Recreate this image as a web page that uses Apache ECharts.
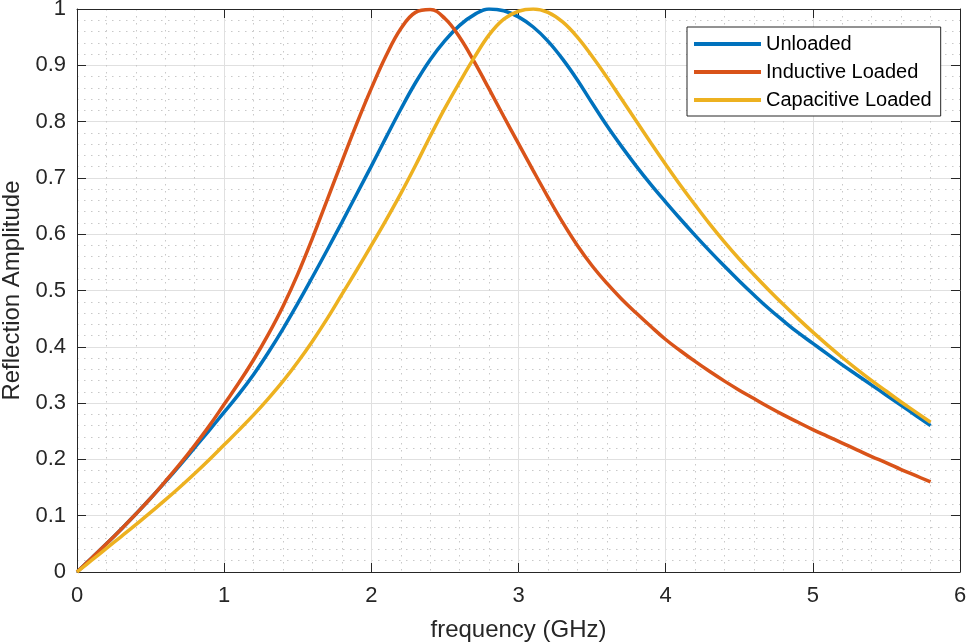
<!DOCTYPE html>
<html>
<head>
<meta charset="utf-8">
<script src="https://cdn.jsdelivr.net/npm/echarts@6/dist/echarts.min.js"></script>
<style>
  html, body { margin: 0; padding: 0; background: #ffffff; }
  #chart { width: 968px; height: 642px; }
</style>
</head>
<body>
<div id="chart"></div>
<script>
// Frequency samples (GHz), 0 to 5.8 in steps of 0.1
const freq = [
  0.0, 0.1, 0.2, 0.3, 0.4, 0.5, 0.6, 0.7, 0.8, 0.9,
  1.0, 1.1, 1.2, 1.3, 1.4, 1.5, 1.6, 1.7, 1.8, 1.9,
  2.0, 2.1, 2.2, 2.3, 2.4, 2.5, 2.6, 2.7, 2.8, 2.9,
  3.0, 3.1, 3.2, 3.3, 3.4, 3.5, 3.6, 3.7, 3.8, 3.9,
  4.0, 4.1, 4.2, 4.3, 4.4, 4.5, 4.6, 4.7, 4.8, 4.9,
  5.0, 5.1, 5.2, 5.3, 5.4, 5.5, 5.6, 5.7, 5.8];

const unloaded = [
  0.000, 0.025, 0.050, 0.076, 0.103, 0.131, 0.160, 0.190, 0.221, 0.252,
  0.284, 0.316, 0.351, 0.390, 0.432, 0.477, 0.524, 0.572, 0.621, 0.671,
  0.721, 0.772, 0.822, 0.869, 0.910, 0.944, 0.971, 0.990, 1.000, 0.997,
  0.986, 0.968, 0.943, 0.911, 0.874, 0.833, 0.793, 0.756, 0.721, 0.688,
  0.657, 0.627, 0.598, 0.570, 0.543, 0.517, 0.492, 0.468, 0.446, 0.425,
  0.406, 0.387, 0.368, 0.350, 0.332, 0.314, 0.296, 0.278, 0.260];

const inductive = [
  0.000, 0.025, 0.050, 0.076, 0.103, 0.131, 0.161, 0.192, 0.225, 0.260,
  0.298, 0.336, 0.377, 0.422, 0.472, 0.529, 0.593, 0.661, 0.729, 0.796,
  0.859, 0.917, 0.965, 0.994, 0.999, 0.983, 0.950, 0.906, 0.858, 0.809,
  0.761, 0.713, 0.666, 0.621, 0.580, 0.544, 0.513, 0.485, 0.460, 0.436,
  0.413, 0.393, 0.374, 0.356, 0.339, 0.323, 0.308, 0.293, 0.279, 0.266,
  0.253, 0.241, 0.229, 0.217, 0.205, 0.194, 0.182, 0.171, 0.160];

const capacitive = [
  0.000, 0.021, 0.042, 0.063, 0.084, 0.106, 0.128, 0.151, 0.175, 0.200,
  0.226, 0.252, 0.279, 0.308, 0.339, 0.373, 0.410, 0.450, 0.493, 0.536,
  0.580, 0.625, 0.672, 0.722, 0.774, 0.824, 0.870, 0.914, 0.954, 0.982,
  0.996, 1.000, 0.994, 0.977, 0.950, 0.916, 0.879, 0.840, 0.801, 0.762,
  0.724, 0.687, 0.652, 0.618, 0.586, 0.556, 0.528, 0.501, 0.475, 0.450,
  0.426, 0.403, 0.381, 0.360, 0.340, 0.321, 0.302, 0.284, 0.266];

const seriesNames = ['Unloaded', 'Inductive Loaded', 'Capacitive Loaded'];
const seriesColors = ['#0072BD', '#D95319', '#EDB120'];

const xLabel = 'frequency (GHz)';
const yLabel = 'Reflection Amplitude';

const FONT = '"Liberation Sans", Arial, Helvetica, sans-serif';
const INK = '#262626';

function pairs(xs, ys) {
  return xs.map((x, i) => [x, ys[i]]);
}

const chart = echarts.init(document.getElementById('chart'), null, { renderer: 'canvas' });

const gridLine = { show: true, lineStyle: { color: '#e0e0e0', width: 1, type: 'solid' } };
const minorGrid = { show: true, lineStyle: { color: '#c8c8c8', width: 1, type: [1.5, 5.5] } };

const baseAxis = {
  type: 'value',
  axisLine: { show: true, onZero: false, lineStyle: { color: INK, width: 1 } },
  axisTick: { show: true, inside: true, length: 9, lineStyle: { color: INK, width: 1 } },
  nameTextStyle: { color: INK, fontFamily: FONT, fontSize: 24 },
  axisLabel: { color: INK, fontFamily: FONT, fontSize: 22 }
};

const option = {
  animation: false,
  backgroundColor: '#ffffff',
  textStyle: { fontFamily: FONT },
  grid: { left: 77, right: 8, top: 9, bottom: 70, containLabel: false, outerBoundsMode: 'none' },
  xAxis: [
    Object.assign({}, baseAxis, {
      position: 'bottom',
      min: 0, max: 6, interval: 1,
      name: xLabel, nameLocation: 'middle', nameGap: 46,
      axisLabel: Object.assign({}, baseAxis.axisLabel, { margin: 13 }),
      splitLine: gridLine,
      minorTick: { show: false, splitNumber: 5 },
      minorSplitLine: minorGrid
    }),
    Object.assign({}, baseAxis, {
      position: 'top',
      min: 0, max: 6, interval: 1,
      axisLabel: { show: false },
      splitLine: { show: false }
    })
  ],
  yAxis: [
    Object.assign({}, baseAxis, {
      position: 'left',
      min: 0, max: 1, interval: 0.1,
      name: yLabel, nameLocation: 'middle', nameGap: 47, nameRotate: 90,
      axisLabel: Object.assign({}, baseAxis.axisLabel, { margin: 11 }),
      splitLine: gridLine,
      minorTick: { show: false, splitNumber: 5 },
      minorSplitLine: minorGrid
    }),
    Object.assign({}, baseAxis, {
      position: 'right',
      min: 0, max: 1, interval: 0.1,
      axisLabel: { show: false },
      splitLine: { show: false }
    })
  ],
  legend: {
    orient: 'vertical',
    left: 687, top: 27,
    padding: [7, 9, 6, 7],
    itemGap: 8,
    itemWidth: 67, itemHeight: 4,
    icon: 'rect',
    backgroundColor: '#ffffff',
    borderColor: INK, borderWidth: 1,
    textStyle: { color: '#000000', fontFamily: FONT, fontSize: 20, lineHeight: 20 },
    data: seriesNames
  },
  series: [
    { values: unloaded },
    { values: inductive },
    { values: capacitive }
  ].map((s, i) => ({
    name: seriesNames[i],
    type: 'line',
    xAxisIndex: 0, yAxisIndex: 0,
    data: pairs(freq, s.values),
    showSymbol: false,
    smooth: 0.4,
    color: seriesColors[i],
    lineStyle: { color: seriesColors[i], width: 3.5 },
    z: 3 + i
  }))
};

chart.setOption(option);
</script>
</body>
</html>
